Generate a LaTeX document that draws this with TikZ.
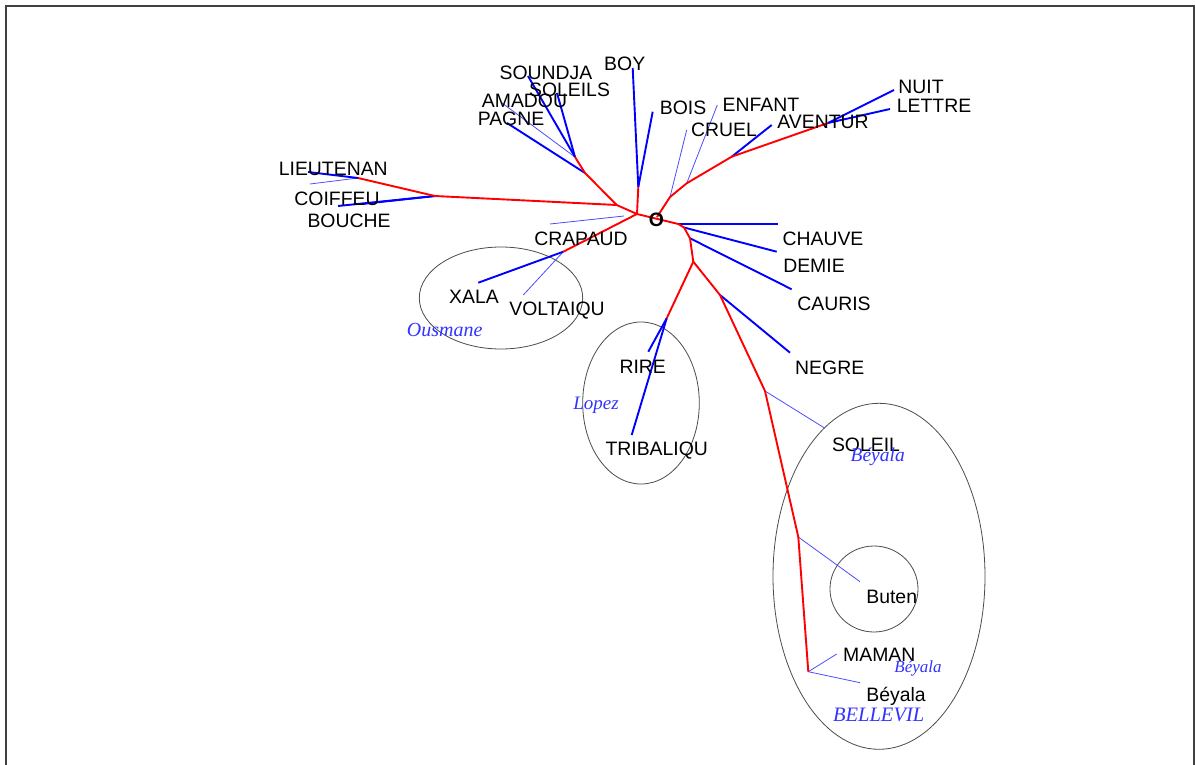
\documentclass[tikz,border=0pt]{standalone}
\usepackage{fontspec}
\setmainfont{Liberation Sans}
\newfontfamily\tmsfont{Liberation Serif}
\begin{document}
\begin{tikzpicture}[x=1pt,y=-1pt,
  lbl/.style={anchor=base,inner sep=0pt,font=\fontsize{19.4}{22}\selectfont},
  auth/.style={anchor=base,inner sep=0pt,text=blue!80,font=\tmsfont\itshape\fontsize{20}{22}\selectfont},
  redb/.style={draw=red,line width=1.9pt,line join=round},
  blueb/.style={draw=blue,line width=1.9pt},
  bluet/.style={draw=blue!70,line width=0.8pt},
  grp/.style={draw=black!70,line width=0.8pt}]
\useasboundingbox (0,0) rectangle (1195,765);
\fill[white] (0,0) rectangle (1195,765);
% frame
\draw[black!75,line width=1.6pt] (6,765) -- (6,6) -- (1194,6) -- (1194,765);

% groups
\draw[grp] (879,576.3) ellipse [x radius=106,y radius=173];
\draw[grp] (874,589) ellipse [x radius=44,y radius=43];
\draw[grp] (641,403) ellipse [x radius=58.3,y radius=81];
\draw[grp] (501,298) ellipse [x radius=81.7,y radius=51];

% red tree coordinates
\coordinate (r0) at (637,214);
\coordinate (rA) at (616.7,205);
\coordinate (rL1) at (435,196);
\coordinate (rL2) at (358,178);
\coordinate (rB) at (585,173);
\coordinate (rC) at (575,157);
\coordinate (rBoy) at (638.3,187);
\coordinate (rCr) at (563.3,251.7);
\coordinate (rOa) at (657,217);
\coordinate (rU1) at (670,197);
\coordinate (rU2) at (686.7,183.3);
\coordinate (rU3) at (731.7,156.7);
\coordinate (rU4) at (828,123);
\coordinate (rR1) at (678.3,224);
\coordinate (rR1b) at (684,227.5);
\coordinate (rR2) at (690,238.3);
\coordinate (rR3) at (693.3,261.7);
\coordinate (rRi) at (666.7,318.3);
\coordinate (rN) at (720,295);
\coordinate (rS) at (765,391);
\coordinate (rBu) at (798.3,537);
\coordinate (rM) at (808.3,671.7);

% leaf end coordinates
\coordinate (eSoundja) at (528,76);
\coordinate (eSoleils) at (557,93);
\coordinate (eAmadou) at (502,103);
\coordinate (ePagne) at (507,123);
\coordinate (eBoy) at (632.7,68);
\coordinate (eBois) at (652.7,111.7);
\coordinate (eLieut) at (308,172);
\coordinate (eLieut2) at (310,184);
\coordinate (eCoif) at (338,206);
\coordinate (eCoif2) at (362,204);
\coordinate (sCrap) at (624,216);
\coordinate (eCrap) at (550,224);
\coordinate (eXala) at (478.3,282.7);
\coordinate (eVolt) at (523.3,295);
\coordinate (eCruel) at (686.7,130);
\coordinate (eEnfant) at (717.3,105);
\coordinate (eAvent) at (771.7,125);
\coordinate (eNuit) at (894,90);
\coordinate (eLettre) at (890,109);
\coordinate (eChauve) at (778.3,224);
\coordinate (eDemie) at (776.7,251.7);
\coordinate (eCauris) at (791.7,289.3);
\coordinate (eNegre) at (790,352.7);
\coordinate (eRire) at (648.3,351.7);
\coordinate (eTrib) at (631.7,435);
\coordinate (eSoleil) at (825,428.3);
\coordinate (eButen) at (860,581.7);
\coordinate (eMaman) at (836.7,654);
\coordinate (eBeyala) at (860,682.7);

% thin blue leaves
\draw[bluet] (rL2) -- (eLieut2);
\draw[bluet] (rC) -- (eAmadou);
\draw[bluet] (sCrap) -- (eCrap);
\draw[bluet] (rCr) -- (eVolt);
\draw[bluet] (rU1) -- (eCruel);
\draw[bluet] (rU2) -- (eEnfant);
\draw[bluet] (rS) -- (eSoleil);
\draw[bluet] (rBu) -- (eButen);
\draw[bluet] (rM) -- (eMaman);
\draw[bluet] (rM) -- (eBeyala);

% thick blue leaves
\draw[blueb] (rC) -- (eSoundja);
\draw[blueb] (rC) -- (eSoleils);
\draw[blueb] (rB) -- (ePagne);
\draw[blueb] (rBoy) -- (eBoy);
\draw[blueb] (rBoy) -- (eBois);
\draw[blueb] (rL2) -- (eLieut);
\draw[blueb] (rL1) -- (eCoif);
\draw[blueb] (rL1) -- (eCoif2);
\draw[blueb] (rCr) -- (eXala);
\draw[blueb] (rU3) -- (eAvent);
\draw[blueb] (rU4) -- (eNuit);
\draw[blueb] (rU4) -- (eLettre);
\draw[blueb] (rR1) -- (eChauve);
\draw[blueb] (rR1b) -- (eDemie);
\draw[blueb] (rR2) -- (eCauris);
\draw[blueb] (rN) -- (eNegre);
\draw[blueb] (rRi) -- (eRire);
\draw[blueb] (rRi) -- (eTrib);

% red tree
\draw[redb] (r0) -- (rA) -- (rL1) -- (rL2);
\draw[redb] (rA) -- (rB) -- (rC);
\draw[redb] (r0) -- (rBoy);
\draw[redb] (r0) -- (rCr);
\draw[redb] (rOa) -- (rU1) -- (rU2) -- (rU3) -- (rU4);
\draw[redb] (r0) -- (rR1) -- (rR1b) -- (rR2) -- (rR3) -- (rRi);
\draw[redb] (rR3) -- (rN) -- (rS) -- (rBu) -- (rM);

% labels
\node[lbl] (tSoundja) at (546,80) {SOUNDJA};
\node[lbl] (tSoleils) at (569.5,96.7) {SOLEILS};
\node[lbl] (tAmadou) at (524.5,108) {AMADOU};
\node[lbl] (tPagne) at (511,126) {PAGNE};
\node[lbl] (tBoy) at (624.7,70.7) {BOY};
\node[lbl] (tLieut) at (333.3,175.7) {LIEUTENAN};
\node[lbl] (tCoif) at (337,205) {COIFFEU};
\node[lbl] (tBouche) at (349,227.7) {BOUCHE};
\node[lbl] (tCrap) at (581,245) {CRAPAUD};
\node[lbl] (tBois) at (683,115) {BOIS};
\node[lbl] (tEnfant) at (761,111.7) {ENFANT};
\node[lbl] (tCruel) at (724,136.7) {CRUEL};
\node[lbl] (tAvent) at (823,128.3) {AVENTUR};
\node[lbl] (tNuit) at (921,93.3) {NUIT};
\node[lbl] (tLettre) at (934,112.7) {LETTRE};
\node[lbl] (tChauve) at (823,245) {CHAUVE};
\node[lbl] (tDemie) at (814,272.7) {DEMIE};
\node[lbl] (tCauris) at (834,310) {CAURIS};
\node[lbl] (tNegre) at (829.7,374) {NEGRE};
\node[lbl] (tXala) at (474,303.3) {XALA};
\node[lbl] (tVolt) at (557,315.7) {VOLTAIQU};
\node[lbl] (tRire) at (642.7,373.3) {RIRE};
\node[lbl] (tTrib) at (656.7,455.7) {TRIBALIQU};
\node[lbl] (tSoleil) at (866,451.7) {SOLEIL};
\node[lbl] (tButen) at (891.7,603.3) {Buten};
\node[lbl] (tMaman) at (879.3,661.7) {MAMAN};
\node[lbl] (tBeyala) at (896,701) {Béyala};
\node[lbl,font=\bfseries\fontsize{19.4}{22}\selectfont] (tO) at (656.5,226.7) {O};

% author labels
\node[auth] (aOus) at (444.7,336.7) {Ousmane};
\node[auth,font=\tmsfont\itshape\fontsize{19}{22}\selectfont] (aLop) at (596,409.3) {Lopez};
\node[auth,font=\tmsfont\itshape\fontsize{19.5}{22}\selectfont] (aBey1) at (877.7,461.7) {Béyala};
\node[auth,font=\tmsfont\itshape\fontsize{17}{20}\selectfont] (aBey2) at (918,672.7) {Béyala};
\node[auth,font=\tmsfont\itshape\fontsize{20.5}{22}\selectfont] (aBel) at (878.7,721.7) {BELLEVIL};
\end{tikzpicture}
\end{document}
